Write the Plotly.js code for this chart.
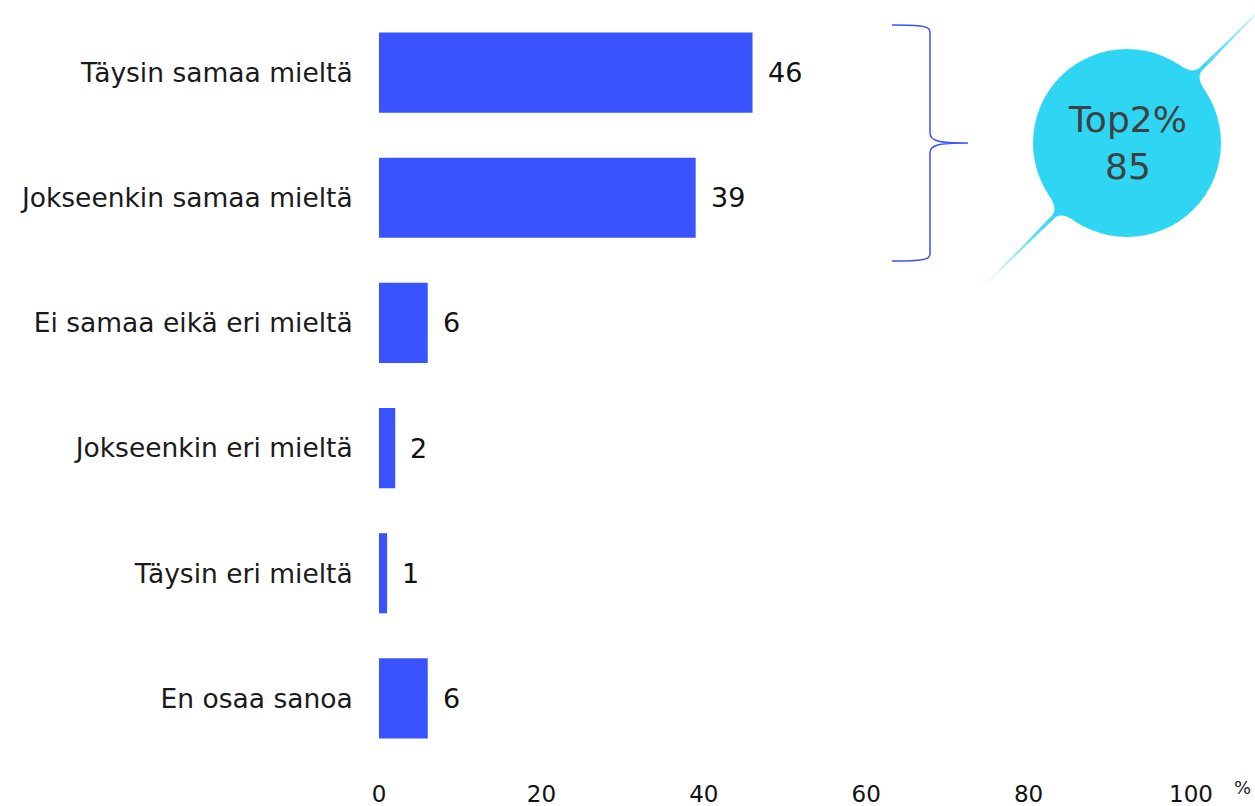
<!DOCTYPE html>
<html>
<head>
<meta charset="utf-8">
<script src="https://cdn.plot.ly/plotly-3.0.1.min.js"></script>
<style>html,body{margin:0;padding:0;background:#fff;}#chart{width:1255px;height:806px;}</style>
</head>
<body>
<div id="chart"></div>
<script>
// ---- data ----
const categories = ["Täysin samaa mieltä", "Jokseenkin samaa mieltä", "Ei samaa eikä eri mieltä", "Jokseenkin eri mieltä", "Täysin eri mieltä", "En osaa sanoa"];
const values = [46, 39, 6, 2, 1, 6];
const xTickVals = [0, 20, 40, 60, 80, 100];
const xTickText = ["0", "20", "40", "60", "80", "100"];
const bubbleLabel = "Top2%";
const bubbleValue = 85;

// ---- layout helpers (decoration only) ----
const W = 1255, H = 806;
const M = {l: 379, r: 64, t: 10, b: 45};
const PW = W - M.l - M.r, PH = H - M.t - M.b;
const px = X => (X - M.l) / PW;
const py = Y => (H - M.b - Y) / PH;
const P = (X, Y) => px(X).toFixed(5) + "," + py(Y).toFixed(5);

const FONT = "DejaVu Sans, sans-serif";
const BAR = "#3953FF";
const CYAN = "#2FD6F4";

const shapes = [];

// curly bracket
const bx = 930, tip = 968, by0 = 25, by1 = 261, bm = 143;
shapes.push({
  type: "path", xref: "paper", yref: "paper",
  path: "M" + P(892, by0) + " C" + P(922, by0) + " " + P(bx, by0 + 1) + " " + P(bx, by0 + 7) +
        " L" + P(bx, bm - 10) + " C" + P(bx, bm - 2) + " " + P(bx + 8, bm) + " " + P(tip, bm) +
        " C" + P(bx + 8, bm) + " " + P(bx, bm + 2) + " " + P(bx, bm + 10) +
        " L" + P(bx, by1 - 7) + " C" + P(bx, by1 - 1) + " " + P(922, by1) + " " + P(892, by1),
  line: {color: BAR, width: 1.5}
});

// bubble
const CX = 1127, CY = 143, R = 94;
shapes.push({type: "circle", xref: "paper", yref: "paper",
  x0: px(CX - R), x1: px(CX + R), y0: py(CY + R), y1: py(CY - R),
  fillcolor: CYAN, line: {width: 0}, layer: "below"});

function loc(phi, s, n) {
  const a = phi * Math.PI / 180;
  const ux = Math.cos(a), uy = Math.sin(a);
  const vx = -uy, vy = ux;
  return [CX + s * ux + n * vx, CY + s * uy + n * vy];
}
const LP = (phi, s, n) => { const p = loc(phi, s, n); return P(p[0], p[1]); };

function spike(phi, L) {
  const ang = 10 * Math.PI / 180;
  const s0 = R * Math.cos(ang), n0 = R * Math.sin(ang);
  const neck = 104, hw0 = 1.9, hw1 = 0.25;
  shapes.push({type: "path", xref: "paper", yref: "paper", layer: "below",
    path: "M" + LP(phi, s0, -n0) + " Q" + LP(phi, 95.5, -hw0 - 0.6) + " " + LP(phi, neck, -hw0) +
          " L" + LP(phi, neck, hw0) + " Q" + LP(phi, 95.5, hw0 + 0.6) + " " + LP(phi, s0, n0) + " Z",
    fillcolor: CYAN, line: {width: 0}});
  const N = 10;
  for (let i = 0; i < N; i++) {
    const sa = neck + (L - neck) * i / N, sb = neck + (L - neck) * (i + 1) / N;
    const wa = hw0 + (hw1 - hw0) * i / N, wb = hw0 + (hw1 - hw0) * (i + 1) / N;
    shapes.push({type: "path", xref: "paper", yref: "paper", layer: "below",
      path: "M" + LP(phi, sa - 0.3, -wa) + " L" + LP(phi, sb, -wb) + " L" + LP(phi, sb, wb) + " L" + LP(phi, sa - 0.3, wa) + " Z",
      fillcolor: CYAN, opacity: 1 - 0.8 * (i + 0.5) / N, line: {width: 0}});
  }
}
spike(-45, 196);
spike(135, 197);

// ---- annotations ----
const annotations = categories.map((c, i) => ({
  x: values[i], y: c, xref: "x", yref: "y", text: String(values[i]),
  showarrow: false, xanchor: "left", yanchor: "middle", xshift: 13,
  font: {family: FONT, size: 27, color: "#111"}
}));
annotations.push({
  xref: "paper", yref: "paper", x: px(CX), y: py(CY),
  xanchor: "center", yanchor: "middle",
  text: bubbleLabel + "<br>" + bubbleValue, showarrow: false,
  font: {family: FONT, size: 36, color: "#404040"}, align: "center"
});
annotations.push({
  xref: "paper", yref: "paper", x: px(1242), y: py(787),
  xanchor: "center", yanchor: "middle",
  text: "%", showarrow: false, font: {family: FONT, size: 18, color: "#222"}
});

const trace = {
  type: "bar", orientation: "h",
  x: values, y: categories,
  marker: {color: BAR},
  width: 0.64, hoverinfo: "skip"
};

const layout = {
  width: W, height: H,
  margin: M,
  paper_bgcolor: "#fff", plot_bgcolor: "#fff",
  showlegend: false,
  font: {family: FONT, color: "#222"},
  xaxis: {
    range: [0, 100], tickvals: xTickVals, ticktext: xTickText,
    showgrid: false, zeroline: false, showline: false,
    ticks: "outside", ticklen: 12, tickcolor: "rgba(0,0,0,0)",
    tickfont: {family: FONT, size: 23, color: "#111"}
  },
  yaxis: {
    type: "category", categoryorder: "array", categoryarray: categories,
    autorange: "reversed",
    showgrid: false, zeroline: false, showline: false,
    ticks: "outside", ticklen: 20, tickcolor: "rgba(0,0,0,0)",
    tickfont: {family: FONT, size: 26.5, color: "#1a1a1a"}
  },
  shapes: shapes,
  annotations: annotations
};

Plotly.newPlot("chart", [trace], layout, {displayModeBar: false, staticPlot: true});
</script>
</body>
</html>
